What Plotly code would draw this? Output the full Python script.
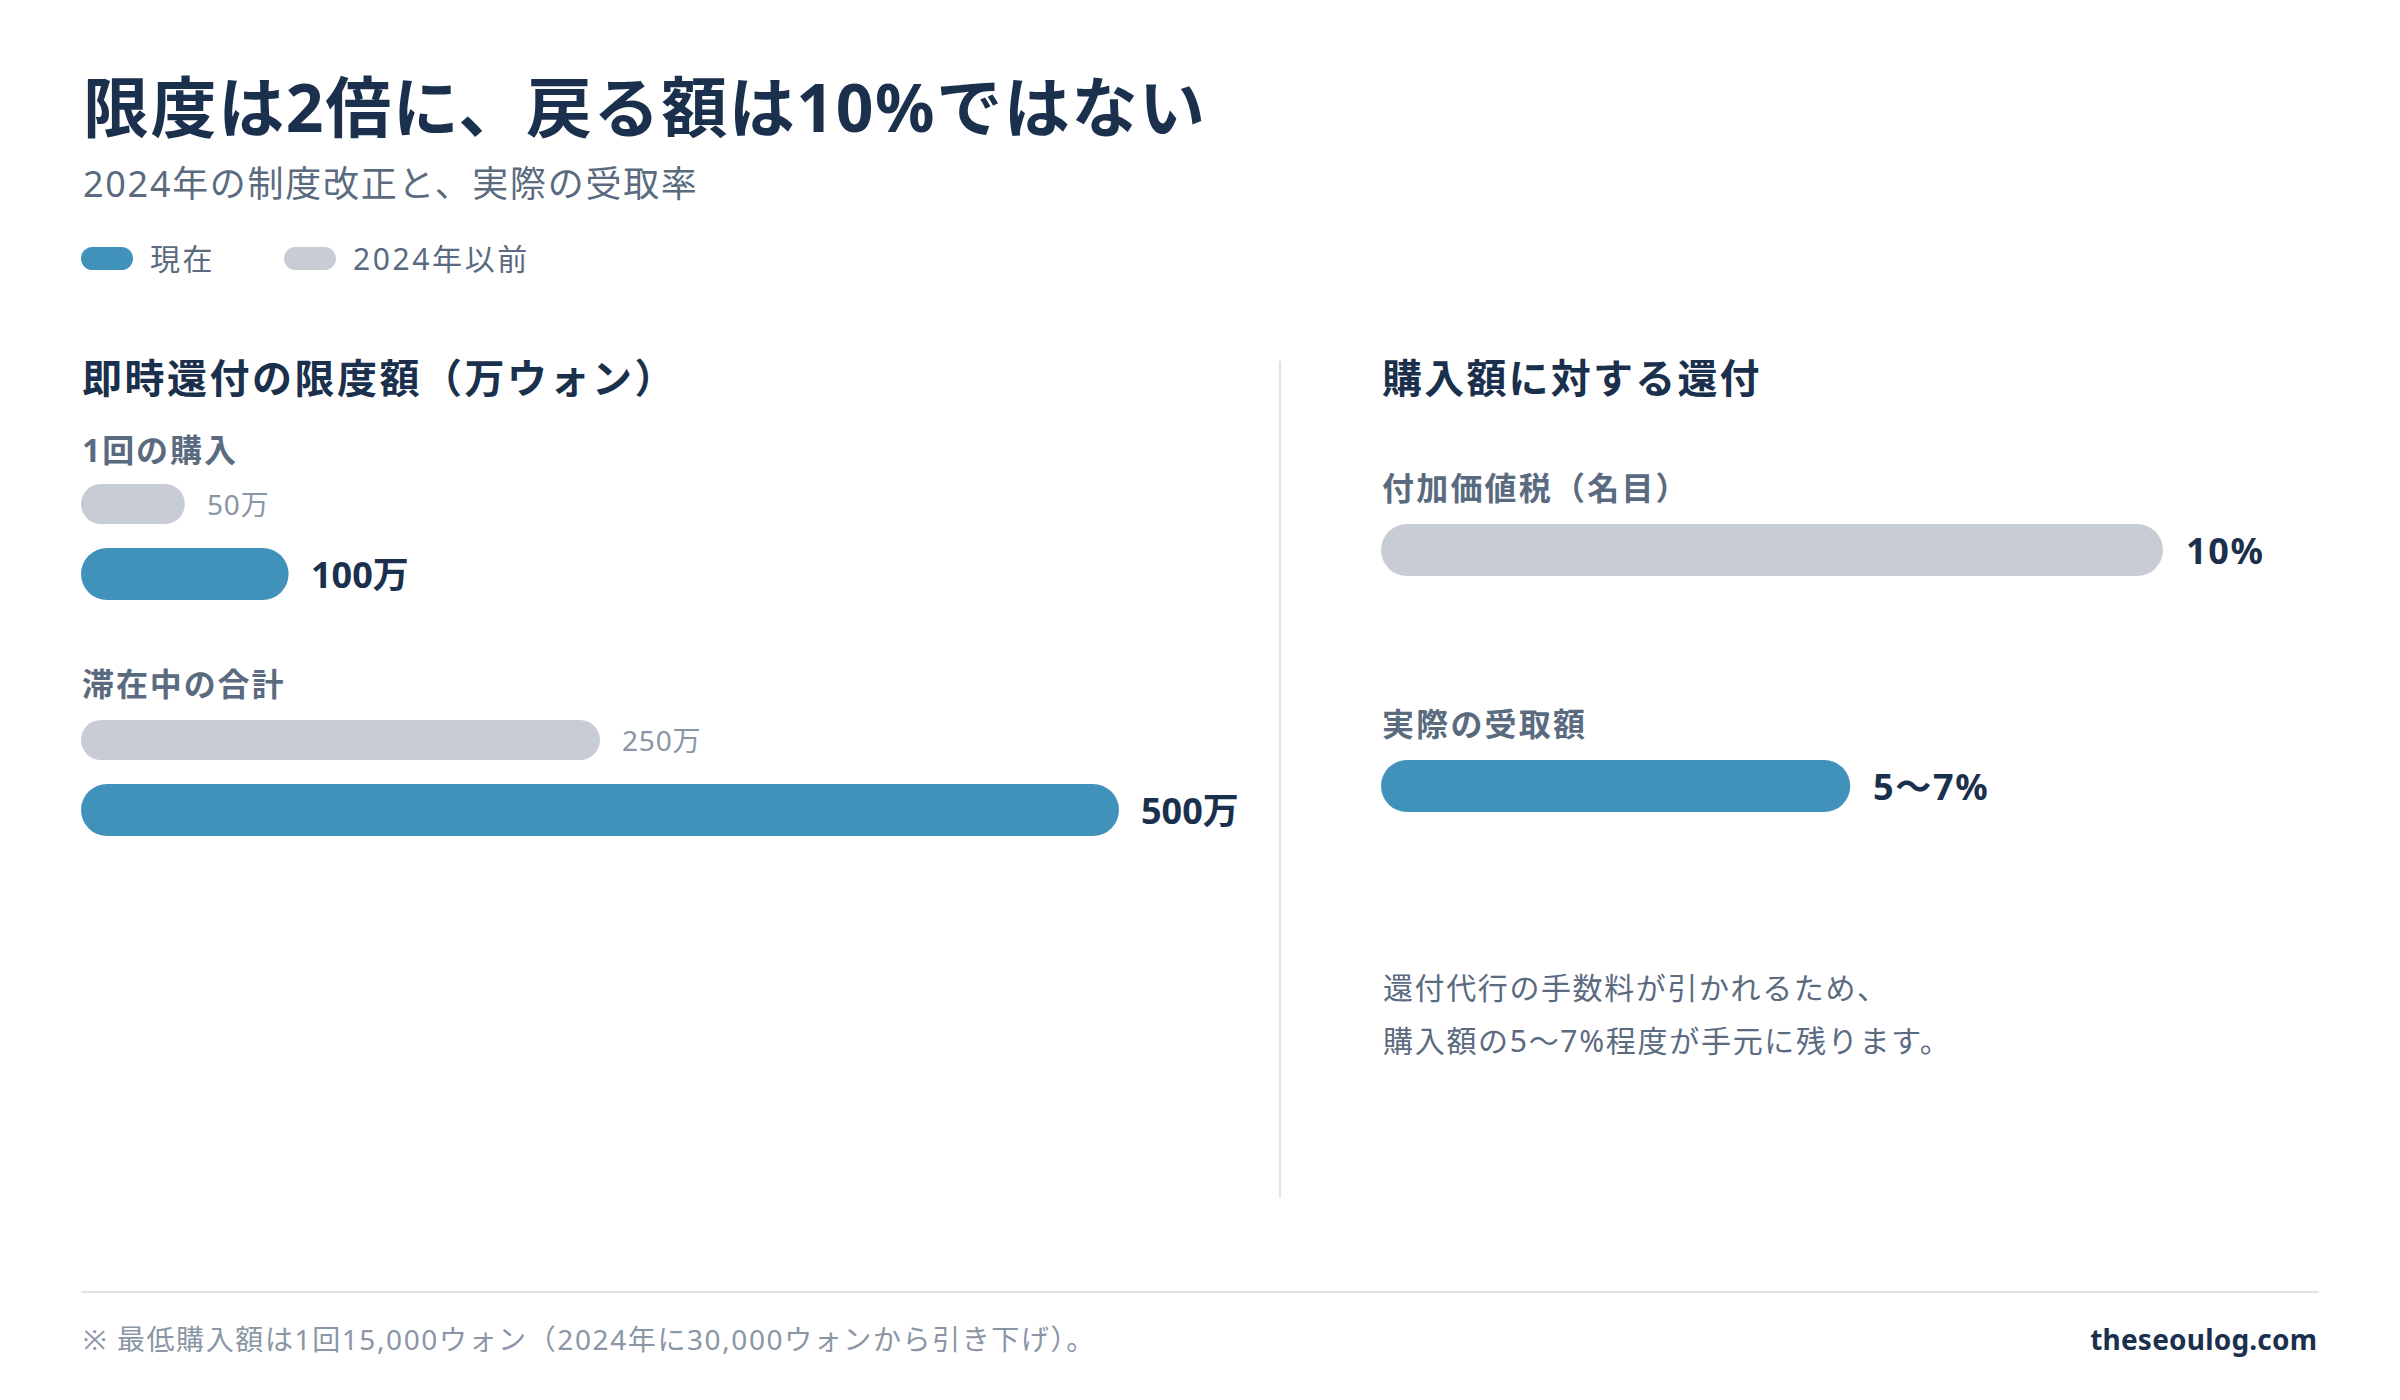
import json
import plotly.graph_objects as go

# ---------------- data ----------------
left_groups = ["1回の購入", "滞在中の合計"]
limit_before = [50, 250]          # 万ウォン (2024年以前)
limit_now = [100, 500]            # 万ウォン (現在)
limit_before_labels = ["50万", "250万"]
limit_now_labels = ["100万", "500万"]

right_groups = ["付加価値税（名目）", "実際の受取額"]
refund_rate = [10, 6]             # % (実際は5〜7%、中央値)
refund_labels = ["10%", "5〜7%"]
refund_series = ["2024年以前", "現在"]   # colour key for each row

legend_names = ["現在", "2024年以前"]

title = "限度は2倍に、戻る額は10%ではない"
subtitle = "2024年の制度改正と、実際の受取率"
left_header = "即時還付の限度額（万ウォン）"
right_header = "購入額に対する還付"
note_lines = ["還付代行の手数料が引かれるため、", "購入額の5〜7%程度が手元に残ります。"]
footer = "※ 最低購入額は1回15,000ウォン（2024年に30,000ウォンから引き下げ）。"
source = "theseoulog.com"

# ---------------- style ----------------
W, H = 2400, 1400
BLUE = "#4092bb"
GRAY = "#c8cdd5"
NAVY = "#1a304c"
SUB = "#5b6b7f"
LIGHT = "#8a95a5"
RULE = "#e4e2dd"
FONT = "Noto Sans, Noto Sans CJK JP, sans-serif"
COLORS = {"現在": BLUE, "2024年以前": GRAY}

# layout slots (pixel rows from top)
left_label_y = [449, 683]
left_before_y = [504, 740]
left_now_y = [574, 810]
right_label_y = [488, 723]
right_bar_y = [550, 786]
THIN, THICK = 40, 52


def px(x):
    return x / W


def py(y):
    return 1 - y / H


fig = go.Figure()


def pill_bars(values, ys, widths, color, xa):
    fig.add_trace(go.Bar(
        x=values, base=[0] * len(values), y=ys, width=widths,
        orientation="h", xaxis=xa, yaxis="y",
        marker=dict(color=color, line=dict(width=0), cornerradius="50%"),
        showlegend=False, hoverinfo="skip"))


pill_bars(limit_before, left_before_y, [THIN] * len(limit_before), GRAY, "x")
pill_bars(limit_now, left_now_y, [THICK] * len(limit_now), BLUE, "x")
for v, y, s in zip(refund_rate, right_bar_y, refund_series):
    pill_bars([v], [y], [THICK], COLORS[s], "x2")

annotations = []
spacing = []


def ann(text, x, y, size, color, weight=400, xanchor="left", xref="paper", yref="paper",
        xshift=0, ls=0):
    annotations.append(dict(
        text=text, x=x, y=y, xref=xref, yref=yref, xanchor=xanchor, yanchor="middle",
        xshift=xshift, showarrow=False,
        font=dict(family=FONT, size=size, color=color, weight=weight)))
    spacing.append(ls)


ann(title, px(81), py(106), 66, NAVY, 700, ls=1.6)
ann(subtitle, px(81), py(183), 36, SUB, ls=1.7)

# legend
shapes = []


def pill_shape(x0, x1, y0, y1, color):
    r = (y1 - y0) / 2
    shapes.append(dict(type="rect", xref="paper", yref="paper", x0=px(x0 + r), x1=px(x1 - r),
                       y0=py(y1), y1=py(y0), fillcolor=color, line=dict(width=0)))
    for cx0 in (x0, x1 - 2 * r):
        shapes.append(dict(type="circle", xref="paper", yref="paper", x0=px(cx0), x1=px(cx0 + 2 * r),
                           y0=py(y1), y1=py(y0), fillcolor=color, line=dict(width=0)))


leg_x = [81, 284]
for name, lx in zip(legend_names, leg_x):
    pill_shape(lx, lx + 52, 247, 270, COLORS[name])
    ann(name, px(lx + 67), py(258), 30, SUB, ls=2.6)

# left panel
ann(left_header, px(80), py(377), 40, NAVY, 700, ls=2.5)
for g, ly in zip(left_groups, left_label_y):
    ann(g, px(80), py(ly), 32, SUB, 700, ls=1.9)
for v, y, t in zip(limit_before, left_before_y, limit_before_labels):
    ann(t, v, y, 28, LIGHT, 400, xref="x", yref="y", xshift=20, ls=0.8)
for v, y, t in zip(limit_now, left_now_y, limit_now_labels):
    ann(t, v, y, 36, NAVY, 700, xref="x", yref="y", xshift=20)

# right panel
ann(right_header, px(1380), py(377), 40, NAVY, 700, ls=2.2)
for g, ly in zip(right_groups, right_label_y):
    ann(g, px(1380), py(ly), 32, SUB, 700, ls=2.2)
for v, y, t in zip(refund_rate, right_bar_y, refund_labels):
    ann(t, v, y, 36, NAVY, 700, xref="x2", yref="y", xshift=21, ls=1.7)
ann(note_lines[0], px(1381), py(987), 30, SUB, ls=1.6)
ann(note_lines[1], px(1381), py(1040), 30, SUB, ls=1.7)

# footer
ann(footer, px(81), py(1339), 28, LIGHT, ls=1.6)
ann(source, px(2319), py(1339), 28, NAVY, 700, xanchor="right", ls=0.2)

# divider & rule
shapes.append(dict(type="line", xref="paper", yref="paper", x0=px(1280), x1=px(1280),
                   y0=py(361), y1=py(1198), line=dict(color=RULE, width=2)))
shapes.append(dict(type="line", xref="paper", yref="paper", x0=px(81), x1=px(2319),
                   y0=py(1292), y1=py(1292), line=dict(color=RULE, width=2)))

axis_common = dict(visible=False, showgrid=False, zeroline=False, fixedrange=True)
fig.update_layout(
    width=W, height=H, margin=dict(l=0, r=0, t=0, b=0),
    paper_bgcolor="white", plot_bgcolor="white",
    barmode="overlay", showlegend=False,
    xaxis=dict(domain=[px(81), px(1119)], range=[0, 500], anchor="y", **axis_common),
    xaxis2=dict(domain=[px(1381), px(2163)], range=[0, 10], anchor="y", **axis_common),
    yaxis=dict(domain=[0, 1], range=[H, 0], **axis_common),
    annotations=annotations, shapes=shapes,
    font=dict(family=FONT),
)

anchors = [a["xanchor"] for a in annotations]
js = """
document.body.style.margin='0';document.body.style.overflow='hidden';
var LS = %s, AN = %s;
document.querySelectorAll('g.annotation').forEach(function(g){
  var i = parseInt(g.getAttribute('data-index'));
  var t = g.querySelector('text.annotation-text');
  if (!t || !LS[i]) return;
  var w0 = t.getComputedTextLength();
  t.style.letterSpacing = LS[i] + 'px';
  var w1 = t.getComputedTextLength();
  var d = (w1 - w0) / 2;
  if (AN[i] === 'right') d = -d;
  var x = parseFloat(t.getAttribute('x') || '0');
  t.setAttribute('x', x + d);
});
""" % (json.dumps(spacing), json.dumps(anchors))

fig.write_html("out.html", config={"displayModeBar": False}, post_script=js)
